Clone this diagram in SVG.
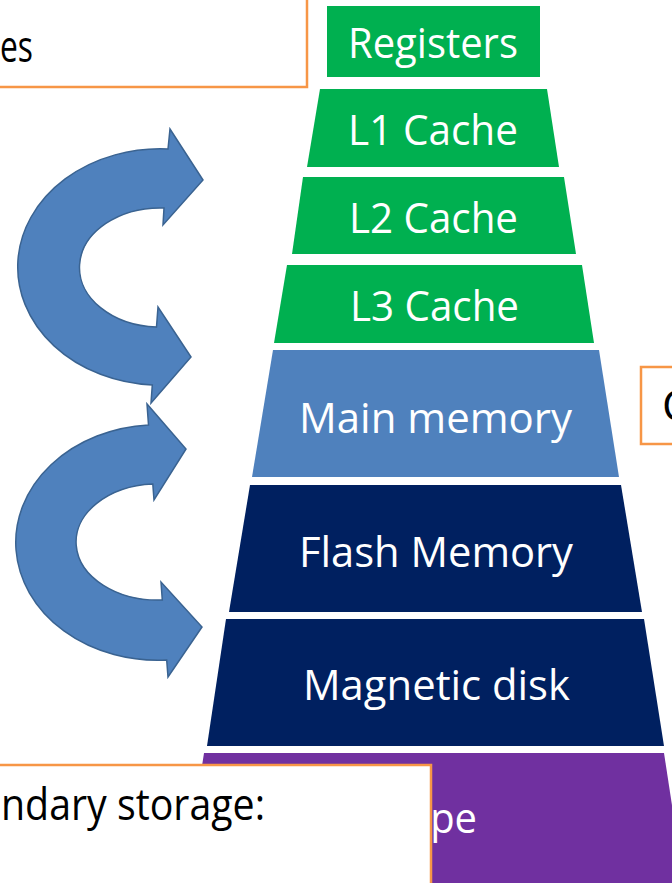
<svg xmlns="http://www.w3.org/2000/svg" width="672" height="883" viewBox="0 0 672 883">
  <style>
    .lbl { font-family: "Open Sans", "Liberation Sans", sans-serif; font-size: 42px; fill: #ffffff; }
    .note { font-family: "Open Sans", "Liberation Sans", sans-serif; font-size: 44px; fill: #000000; }
    .box { fill: #ffffff; stroke: #F79646; stroke-width: 2.5; }
    .green { fill: #00B050; }
    .blue { fill: #4F81BD; }
    .navy { fill: #002060; }
    .purple { fill: #7030A0; }
    .arrow { fill: #4F81BD; stroke: #3A6391; stroke-width: 1.5; stroke-linejoin: miter; }
  </style>
  <rect width="672" height="883" fill="#ffffff"/>

  <g id="registers">
    <rect class="green" x="327" y="6" width="213" height="71"/>
    <text class="lbl" x="433" y="58" text-anchor="middle" textLength="170" lengthAdjust="spacingAndGlyphs">Registers</text>
  </g>
  <g id="l1">
    <polygon class="green" points="320,89 547,89 559,167 307,167"/>
    <text class="lbl" x="433" y="145" text-anchor="middle" textLength="170" lengthAdjust="spacingAndGlyphs">L1 Cache</text>
  </g>
  <g id="l2">
    <polygon class="green" points="303,177 564,177 576,254 292,254"/>
    <text class="lbl" x="433.5" y="233" text-anchor="middle" textLength="169" lengthAdjust="spacingAndGlyphs">L2 Cache</text>
  </g>
  <g id="l3">
    <polygon class="green" points="287,265 582,265 594,343 274,343"/>
    <text class="lbl" x="434.5" y="321" text-anchor="middle" textLength="169" lengthAdjust="spacingAndGlyphs">L3 Cache</text>
  </g>
  <g id="main">
    <polygon class="blue" points="273,350 599,350 619,477 252,477"/>
    <text class="lbl" x="435.5" y="433" text-anchor="middle" textLength="273" lengthAdjust="spacingAndGlyphs">Main memory</text>
  </g>
  <g id="flash">
    <polygon class="navy" points="250,485 621,485 642,612 229,612"/>
    <text class="lbl" x="436" y="567" text-anchor="middle" textLength="274" lengthAdjust="spacingAndGlyphs">Flash Memory</text>
  </g>
  <g id="disk">
    <polygon class="navy" points="226,619 644,619 664,746 207,746"/>
    <text class="lbl" x="436.5" y="700" text-anchor="middle" textLength="267" lengthAdjust="spacingAndGlyphs">Magnetic disk</text>
  </g>
  <g id="tape">
    <polygon class="purple" points="204,753 664,753 685,890 183,890"/>
    <text class="lbl" x="431.5" y="833" text-anchor="middle" textLength="91" lengthAdjust="spacingAndGlyphs">Tape</text>
  </g>

  <g id="connectors">
    <path class="arrow" d="M 168,149 L 170,129 L 203,180 L 163,225 L 164,208 A 80 59 0 0 0 156.5,327 L 158,307 L 191,357 L 151,403 L 152.3,385 A 141 117 0 0 1 168,149 Z"/>
    <path class="arrow" d="M 148.5,425 L 147,404 L 186,449 L 154,500 L 152.8,484 A 80 57 0 0 0 162.3,600 L 161,582 L 202,627 L 168,677 L 166.7,660 A 141 117 0 0 1 148.5,425 Z"/>
  </g>

  <g id="note-top">
    <rect class="box" x="-10" y="-10" width="317" height="97"/>
    <text class="note" x="0" y="62" textLength="33" lengthAdjust="spacingAndGlyphs">es</text>
  </g>
  <g id="note-right">
    <rect class="box" x="641" y="367" width="60" height="77"/>
    <text class="note" x="662" y="421">C</text>
  </g>
  <g id="note-bottom">
    <rect class="box" x="-10" y="765" width="441" height="150"/>
    <text class="note" x="1" y="820" textLength="264" lengthAdjust="spacingAndGlyphs">ndary storage:</text>
  </g>
</svg>
